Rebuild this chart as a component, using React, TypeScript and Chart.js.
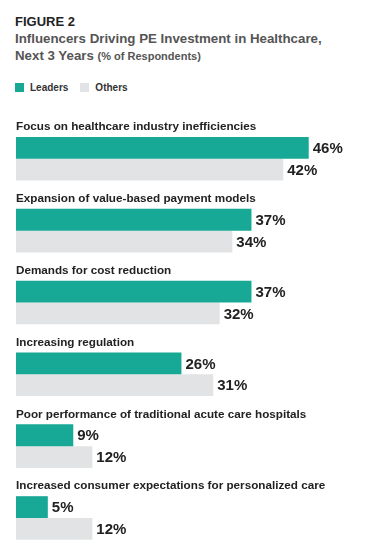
import React, { useEffect, useRef } from "react";
import { Chart, registerables } from "chart.js";

Chart.register(...registerables);

const categories = [
  "Focus on healthcare industry inefficiencies",
  "Expansion of value-based payment models",
  "Demands for cost reduction",
  "Increasing regulation",
  "Poor performance of traditional acute care hospitals",
  "Increased consumer expectations for personalized care",
];
const leaders = [46, 37, 37, 26, 9, 5];
const others = [42, 34, 32, 31, 12, 12];
const seriesNames = ["Leaders", "Others"];
const TEAL = "#17a995";
const GRAY = "#e2e3e5";
const FONT = "'Liberation Sans', Arial, sans-serif";

const labelsPlugin = {
  id: "customLabels",
  afterDatasetsDraw(chart: any) {
    const ctx = chart.ctx;
    ctx.save();
    const leadMeta = chart.getDatasetMeta(1);
    ctx.font = `bold 11.7px ${FONT}`;
    ctx.fillStyle = "#222";
    ctx.textAlign = "left";
    ctx.textBaseline = "middle";
    leadMeta.data.forEach((bar: any, i: number) => {
      const top = bar.y - bar.height / 2;
      ctx.fillText(categories[i], chart.chartArea.left, top - 10);
    });
    ctx.font = `bold 15px ${FONT}`;
    [1, 2].forEach((di) => {
      const meta = chart.getDatasetMeta(di);
      const data = chart.data.datasets[di].data;
      meta.data.forEach((bar: any, i: number) => {
        ctx.fillText(`${data[i]}%`, bar.x + 4, bar.y + 1);
      });
    });
    ctx.restore();
  },
};

export default function App() {
  const ref = useRef<HTMLCanvasElement>(null);
  useEffect(() => {
    if (!ref.current) return;
    const chart = new Chart(ref.current, {
      type: "bar",
      data: {
        labels: categories,
        datasets: [
          { label: "spacer", data: categories.map(() => null), backgroundColor: "transparent" },
          { label: seriesNames[0], data: leaders, backgroundColor: TEAL },
          { label: seriesNames[1], data: others, backgroundColor: GRAY },
        ],
      },
      options: {
        indexAxis: "y",
        animation: false,
        responsive: false,
        maintainAspectRatio: false,
        layout: { padding: { left: 16, right: 13, top: 4, bottom: 5 } },
        datasets: { bar: { categoryPercentage: 0.91, barPercentage: 1, borderWidth: 0 } },
        scales: {
          x: { display: false, min: 0, max: 55 },
          y: { display: false },
        },
        plugins: {
          legend: { display: false },
          tooltip: { enabled: false },
        },
      },
      plugins: [labelsPlugin],
    } as any);
    return () => chart.destroy();
  }, []);

  const sq = (c: string) => ({
    display: "inline-block",
    width: 9,
    height: 9,
    background: c,
    marginRight: 6,
    verticalAlign: "middle",
  });

  return (
    <div style={{ position: "fixed", left: 0, top: 0, width: 379, height: 552, background: "#fff", fontFamily: FONT }}>
      <div style={{ position: "absolute", left: 15, top: 13, fontWeight: "bold", fontSize: 13, color: "#222", lineHeight: "17px" }}>
        FIGURE 2
      </div>
      <div style={{ position: "absolute", left: 15, top: 30, fontWeight: "bold", fontSize: 13.3, color: "#555", lineHeight: "17px", whiteSpace: "nowrap" }}>
        Influencers Driving PE Investment in Healthcare,
        <br />
        Next 3 Years <span style={{ fontSize: 11 }}>(% of Respondents)</span>
      </div>
      <div style={{ position: "absolute", left: 15, top: 80, fontWeight: "bold", fontSize: 10, color: "#333", lineHeight: "13px", whiteSpace: "nowrap" }}>
        <span style={sq(TEAL)} />
        <span style={{ verticalAlign: "middle", marginRight: 12 }}>{seriesNames[0]}</span>
        <span style={sq(GRAY)} />
        <span style={{ verticalAlign: "middle" }}>{seriesNames[1]}</span>
      </div>
      <canvas ref={ref} width={379} height={440} style={{ position: "absolute", left: 0, top: 108, width: 379, height: 440 }} />
    </div>
  );
}
